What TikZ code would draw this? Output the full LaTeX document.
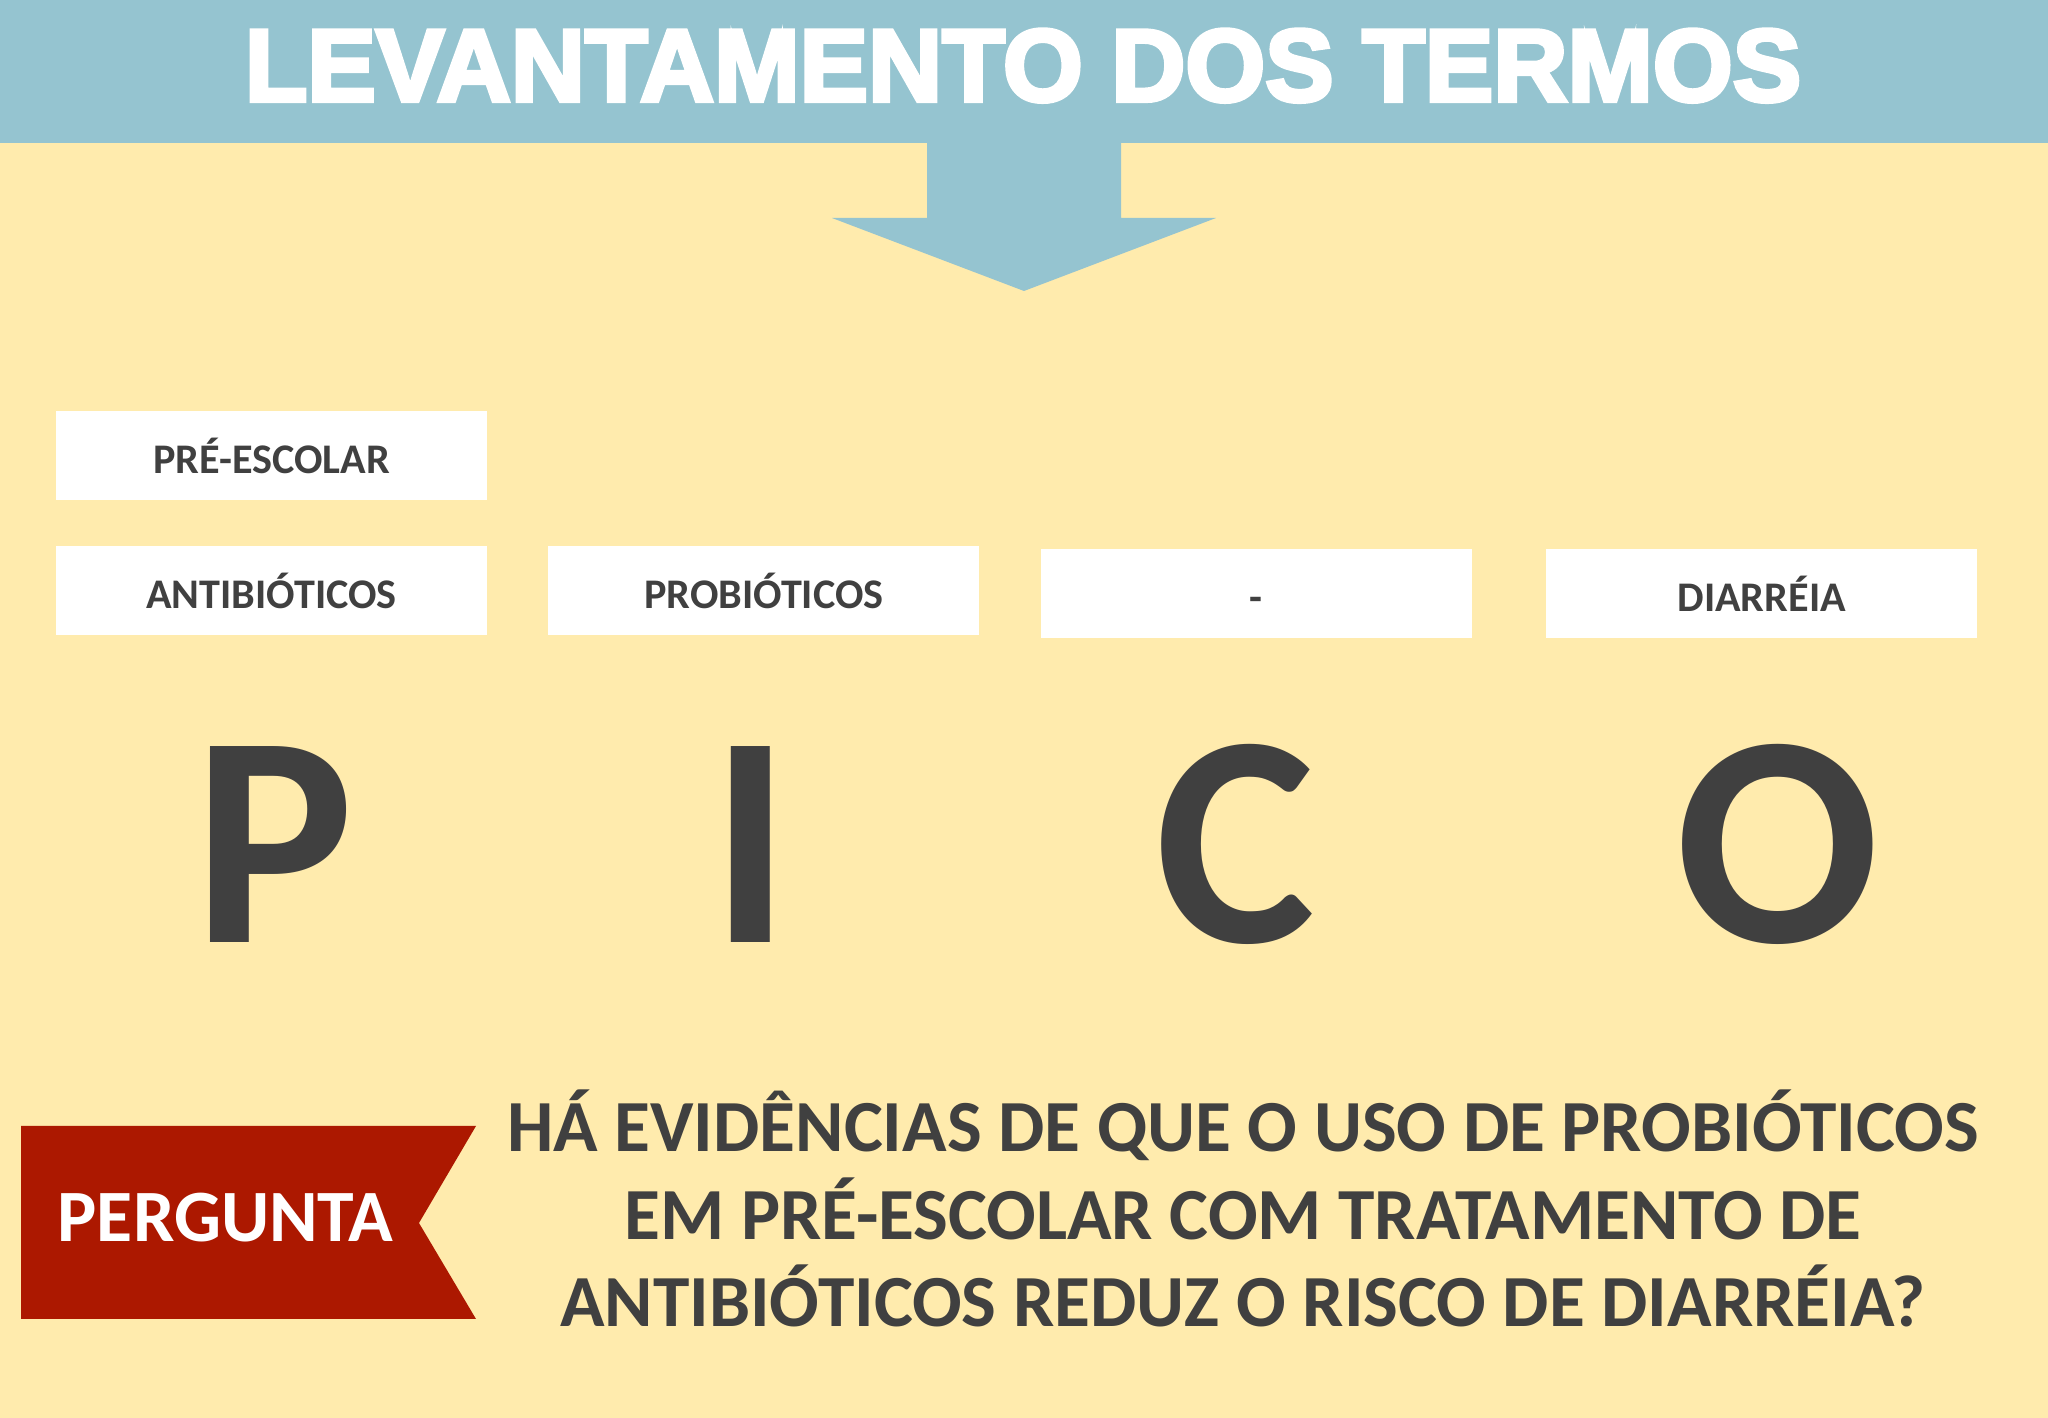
\documentclass[tikz,border=0pt]{standalone}
\usepackage{fontspec}
\usepackage{xcolor}
\usetikzlibrary{positioning}
\setmainfont{Carlito}
\newfontfamily\titlefont{Liberation Sans}[BoldFeatures={FakeBold=4}]
\definecolor{bgyellow}{HTML}{FFEBAD}
\definecolor{headblue}{HTML}{95C4D0}
\definecolor{inkgray}{HTML}{404040}
\definecolor{pergred}{HTML}{AC1800}
\tikzset{
    node distance=0.6cm, % gap between two term boxes
    termbox/.style={fill=white, minimum width=4.31cm, minimum height=0.89cm, inner sep=0pt, text height=0.36cm, text depth=0pt, text=inkgray, font=\fontsize{12}{12}\selectfont\bfseries}, % the white boxes with the terms
    picoletter/.style={anchor=base, inner sep=0pt, text=inkgray, font=\fontsize{86}{86}\selectfont\bfseries}, % the big letters P I C O
}
\tikzstyle{headline} = [text=white, inner sep=0pt, anchor=base, font=\fontsize{29.2}{29}\selectfont\titlefont\bfseries]
\tikzstyle{question} = [anchor=base, inner sep=0pt, align=center, text=inkgray, font=\fontsize{20.9}{25}\selectfont\bfseries]

\begin{document}
\begin{tikzpicture}
            \useasboundingbox (0,0) rectangle (20.48,-14.18);
            \fill[bgyellow] (0,0) rectangle (20.48,-14.18);
            \fill[headblue] (0,0) rectangle (20.48,-1.43);
            \fill[headblue] (9.27,-1.42) -- (9.27,-2.18) -- (8.32,-2.18) -- (10.24,-2.91)
                -- (12.16,-2.18) -- (11.21,-2.18) -- (11.21,-1.42) -- cycle;
            \node[headline] (titulo) at (10.23,-1.01) {LEVANTAMENTO DOS TERMOS};

            \node[termbox] (pre) at (2.715,-4.555) {PRÉ-ESCOLAR};
            \node[termbox, below=0.45cm of pre] (antib) {ANTIBIÓTICOS};
            \node[termbox, right=of antib] (probi) {PROBIÓTICOS};
            \node[termbox, right=of probi, yshift=-0.03cm] (comp) {-};
            \node[termbox, right=0.73cm of comp] (diarr) {DIARRÉIA};

            \node[picoletter] (p) at (2.74,-9.43) {P};
            \node[picoletter] (i) at (7.51,-9.43) {I};
            \node[picoletter] (c) at (12.35,-9.43) {C};
            \node[picoletter] (o) at (17.78,-9.43) {O};

            \fill[pergred] (0.21,-11.26) -- (4.76,-11.26) -- (4.19,-12.23) -- (4.76,-13.19) -- (0.21,-13.19) -- cycle;
            \node[text=white, anchor=base, inner sep=0pt, font=\fontsize{21}{21}\selectfont\bfseries] (pergunta) at (2.255,-12.42) {PERGUNTA};
            \node[question] (perg) at (12.43,-13.27) {HÁ EVIDÊNCIAS DE QUE O USO DE PROBIÓTICOS\\
                EM PRÉ-ESCOLAR COM TRATAMENTO DE\\ ANTIBIÓTICOS REDUZ O RISCO DE DIARRÉIA?};

        \end{tikzpicture}
\end{document}
